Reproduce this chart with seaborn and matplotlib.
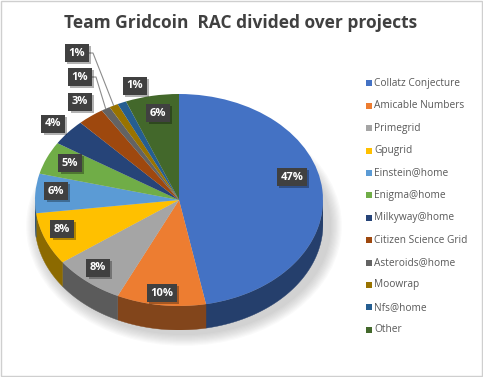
import numpy as np
import matplotlib
matplotlib.use("Agg")
import matplotlib.pyplot as plt
import matplotlib.patheffects as pe
import seaborn as sns
from matplotlib.patches import Polygon, Ellipse, Rectangle
from matplotlib.colors import to_rgb

# data
projects = ["Collatz Conjecture", "Amicable Numbers", "Primegrid", "Gpugrid",
            "Einstein@home", "Enigma@home", "Milkyway@home", "Citizen Science Grid",
            "Asteroids@home", "Moowrap", "Nfs@home", "Other"]
shares = [47, 10, 8, 8, 6, 5, 4, 3, 1, 1, 1, 6]
colors = ["#4472C4", "#ED7D31", "#A5A5A5", "#FFC000", "#5B9BD5", "#70AD47",
          "#264478", "#9E480E", "#636363", "#997300", "#255E91", "#43682B"]
pct_labels = [f"{s}%" for s in shares]

sns.set_theme(style="white")
plt.rcParams["font.family"] = ["Open Sans", "DejaVu Sans"]

W, H = 483, 377
fig = plt.figure(figsize=(W / 100, H / 100), dpi=100)
fig.patch.set_facecolor("white")

# background axes in pixel units (for title, legend, labels)
bg = fig.add_axes([0, 0, 1, 1], zorder=0)
bg.set_xlim(0, W)
bg.set_ylim(H, 0)
bg.axis("off")
bg.add_patch(Rectangle((0.5, 0.5), W - 1.5, H - 1.5, fill=False, ec="#CFCFCF", lw=1))

# pie geometry (pixels)
cx, cy, rx, ry, depth = 179, 200, 144, 106, 24
d = depth / ry

# soft shadow under the pie
for k in range(10):
    bg.add_patch(Ellipse((cx + 5, cy + depth + 2), 2 * rx + 6 + 2.4 * k, 2 * ry + 6 + 2.4 * k,
                         fc="#808080", ec="none", alpha=0.04, zorder=1))

ax = fig.add_axes([(cx - rx) / W, 1 - (cy + ry + depth) / H, 2 * rx / W, (2 * ry + depth) / H],
                  zorder=1)
ax.patch.set_alpha(0)

# side of the 3d disc
fr = np.array(shares) / sum(shares)
edges = 90 - 360 * np.concatenate([[0], np.cumsum(fr)])
for i, c in enumerate(colors):
    lo, hi = max(edges[i + 1], -180), min(edges[i], 0)
    if lo >= hi:
        continue
    t = np.radians(np.linspace(lo, hi, 80))
    xs, ys = np.cos(t), np.sin(t)
    pts = np.column_stack([np.r_[xs, xs[::-1]], np.r_[ys, ys[::-1] - d]])
    dark = tuple(v * 0.55 for v in to_rgb(c))
    ax.add_patch(Polygon(pts, closed=True, fc=dark, ec=dark, lw=0.3, zorder=1))

wedges, _ = ax.pie(shares, colors=colors, startangle=90, counterclock=False, radius=1,
                   wedgeprops=dict(linewidth=0))
for w in wedges:
    w.set_zorder(2)
ax.set_aspect("auto")
ax.set_xlim(-1, 1)
ax.set_ylim(-1 - d, 1)
ax.axis("off")

# data labels
label_pos = [(292, 177), (162, 293), (98, 268), (62, 229), (56, 191), (70, 163),
             (53, 124), (80, 102), (80, 77), (77, 53), (135, 86), (158, 113)]
lab = fig.add_axes([0, 0, 1, 1], zorder=3)
lab.set_xlim(0, W)
lab.set_ylim(H, 0)
lab.axis("off")
for txt, (x, y) in zip(pct_labels, label_pos):
    t = lab.text(x, y, txt, ha="center", va="center", fontsize=8, fontweight="bold",
                 color="white", bbox=dict(boxstyle="square,pad=0.3", fc="#404040", ec="none"))
    t.get_bbox_patch().set_path_effects([
        pe.SimplePatchShadow(offset=(1.5, -1.5), shadow_rgbFace="black", alpha=0.3),
        pe.Normal()])

# leader lines for the two small outside labels
for i in (8, 9):
    mid = np.radians((edges[i] + edges[i + 1]) / 2)
    tx, ty = cx + rx * np.cos(mid), cy - ry * np.sin(mid)
    x0, y0 = label_pos[i]
    lab.plot([x0 + 11, x0 + 16, tx], [y0, y0, ty], color="#8C8C8C", lw=0.8, zorder=1)

# title
bg.text(241, 23, "Team Gridcoin  RAC divided over projects", ha="center", va="center",
        fontsize=12.5, fontweight="bold", color="#404040")

# legend
for i, (name, c) in enumerate(zip(projects, colors)):
    y = 83.3 + i * 22.4
    bg.add_patch(Rectangle((365.5, y - 3), 6, 6, fc=c, ec="none"))
    bg.text(374, y, name, ha="left", va="center", fontsize=7.3, color="#595959")

fig.savefig("out.png", dpi=100, facecolor="white")
